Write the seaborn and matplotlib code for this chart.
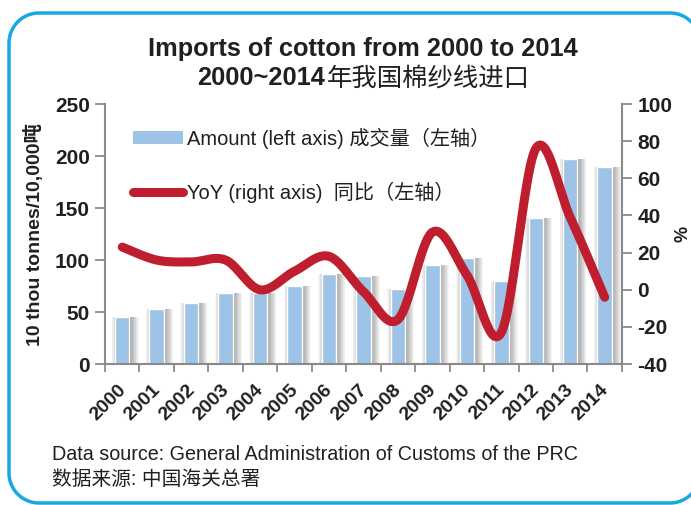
import numpy as np
import pandas as pd
import matplotlib
matplotlib.use("Agg")
import matplotlib.pyplot as plt
import matplotlib.patheffects as pe
from matplotlib.patches import Patch, PathPatch
from matplotlib.path import Path
from matplotlib.lines import Line2D
from matplotlib.transforms import IdentityTransform, ScaledTranslation
import seaborn as sns

years = [str(y) for y in range(2000, 2015)]
amount = [45, 53, 59, 68, 68, 75, 87, 85, 72, 95, 102, 80, 140, 197, 189]
yoy = [23, 16, 15, 16, 0, 10, 18, -1, -16, 31, 8, -23, 76, 39, -4]

left_ticks = [0, 50, 100, 150, 200, 250]
right_ticks = [-40, -20, 0, 20, 40, 60, 80, 100]

BAR_BLUE = "#9dc3e6"
LINE_RED = "#be1e2d"
AXIS_GRAY = "#8a8a8a"
TEXT = "#231f20"

sns.set_theme(style="white")
plt.rcParams["font.family"] = ["Liberation Sans", "Noto Sans CJK SC", "DejaVu Sans"]
plt.rcParams["axes.unicode_minus"] = False

fig = plt.figure(figsize=(6.91, 5.05), dpi=100)
ax = fig.add_axes([0.152, 0.279, 0.748, 0.515])

df = pd.DataFrame({"year": years, "amount": amount})
sns.barplot(data=df, x="year", y="amount", color=BAR_BLUE, width=0.42,
            saturation=1, ax=ax, zorder=2)

# soft grey glow around each bar, heavier on the right
offsets = [-2.5, -2.0, -1.5, -1.0, -0.5] + [0.5 * k for k in range(1, 14)]
shadow = [pe.SimplePatchShadow(offset=(d, 0), shadow_rgbFace="k", alpha=0.034)
          for d in offsets]
for bar in ax.patches:
    bar.set_path_effects(shadow + [pe.Normal()])

ax.set_xlim(-0.5, len(years) - 0.5)
ax.set_ylim(0, 250)
ax.set_yticks(left_ticks)
ax.set_xlabel("")
ax.set_ylabel("10 thou tonnes/10,000吨", fontsize=14, fontweight="bold",
              color=TEXT, labelpad=8)

# x ticks: marks at category boundaries, labels at centres
ax.set_xticks(range(len(years)))
ax.set_xticklabels(years, rotation=45, ha="right", rotation_mode="anchor",
                   fontsize=14, fontweight="bold", color=TEXT)
ax.set_xticks(np.arange(-0.5, len(years)), minor=True)
ax.tick_params(axis="x", which="major", length=0, pad=6)
ax.tick_params(axis="x", which="minor", length=6, width=1.3, color=AXIS_GRAY,
               direction="out", bottom=True)
ax.tick_params(axis="y", length=7, width=1.3, color=AXIS_GRAY, left=True,
               labelsize=15, labelcolor=TEXT, pad=4)
for lbl in ax.get_yticklabels():
    lbl.set_fontweight("bold")
shift = ScaledTranslation(-0.05, -0.09, fig.dpi_scale_trans)
for lbl in ax.get_xticklabels():
    lbl.set_transform(lbl.get_transform() + shift)

for s in ("top", "right"):
    ax.spines[s].set_visible(False)
for s in ("left", "bottom"):
    ax.spines[s].set_color(AXIS_GRAY)
    ax.spines[s].set_linewidth(1.5)

# YoY on the secondary axis, drawn as a smoothed curve through the points
ax2 = ax.twinx()
xs = np.arange(len(yoy), dtype=float)
ys = np.asarray(yoy, dtype=float)
pts = np.column_stack([xs, ys])
curve = []
t = np.linspace(0, 1, 25)[:, None]
for i in range(len(pts) - 1):
    p0 = pts[i - 1] if i > 0 else pts[i]
    p1, p2 = pts[i], pts[i + 1]
    p3 = pts[i + 2] if i + 2 < len(pts) else pts[i + 1]
    seg = 0.5 * (2 * p1 + (-p0 + p2) * t + (2 * p0 - 5 * p1 + 4 * p2 - p3) * t ** 2
                 + (-p0 + 3 * p1 - 3 * p2 + p3) * t ** 3)
    curve.append(seg if i == 0 else seg[1:])
curve = np.vstack(curve)
ax2.plot(curve[:, 0], curve[:, 1], color=LINE_RED, lw=6.5,
         solid_capstyle="round", solid_joinstyle="round", zorder=3)

ax2.set_ylim(-40, 100)
ax2.set_yticks(right_ticks)
ax2.tick_params(axis="y", length=7, width=1.3, color=AXIS_GRAY, right=True,
                labelsize=15, labelcolor=TEXT, pad=4)
for lbl in ax2.get_yticklabels():
    lbl.set_fontweight("bold")
ax2.set_ylabel("%", fontsize=13, fontweight="bold", color=TEXT, labelpad=2)
for s in ("top", "left", "bottom"):
    ax2.spines[s].set_visible(False)
ax2.spines["right"].set_color(AXIS_GRAY)
ax2.spines["right"].set_linewidth(1.5)
ax2.grid(False)
ax.grid(False)

handles = [
    Patch(facecolor=BAR_BLUE, edgecolor="none"),
    Line2D([0], [0], color=LINE_RED, lw=6.5, solid_capstyle="round"),
]
labels = ["Amount (left axis) 成交量（左轴）", "YoY (right axis)  同比（左轴）"]
leg = ax2.legend(handles, labels, loc="upper left", bbox_to_anchor=(0.02, 0.98),
                 frameon=False, fontsize=14.5, handlelength=2.45, handleheight=0.65,
                 handletextpad=0.2, labelspacing=1.65)
for txt in leg.get_texts():
    txt.set_color(TEXT)

fig.text(0.525, 0.903, "Imports of cotton from 2000 to 2014", ha="center",
         va="center", fontsize=18.3, fontweight="bold", color=TEXT)

# second title line: bold digits followed by regular-weight Chinese
renderer = fig.canvas.get_renderer()
part_a = fig.text(0, 0.845, "2000~2014", ha="left", va="center", fontsize=18.3,
                  fontweight="bold", color=TEXT)
part_b = fig.text(0, 0.845, "年我国棉纱线进口", ha="left", va="center",
                  fontsize=18.3, color=TEXT)
wa = part_a.get_window_extent(renderer).width / fig.bbox.width
wb = part_b.get_window_extent(renderer).width / fig.bbox.width
x0 = 0.525 - (wa + wb) / 2
part_a.set_x(x0)
part_b.set_x(x0 + wa + 0.002)

fig.text(0.075, 0.1, "Data source: General Administration of Customs of the PRC",
         ha="left", va="center", fontsize=14.2, color=TEXT)
fig.text(0.075, 0.05, "数据来源: 中国海关总署", ha="left", va="center",
         fontsize=14.2, color=TEXT)

# rounded blue frame (pixel coordinates, origin bottom-left); its right side
# runs just past the canvas edge, so only the corners show there
L, B, R, T, r = 9.0, 2.0, 700.0, 492.0, 30.0


def arc(cx, cy, a0, a1, n=20):
    a = np.radians(np.linspace(a0, a1, n))
    return np.column_stack([cx + r * np.cos(a), cy + r * np.sin(a)])


verts = np.vstack([
    [[R, T - r - 60]],
    arc(R - r, T - r, 0, 90),
    arc(L + r, T - r, 90, 180),
    arc(L + r, B + r, 180, 270),
    arc(R - r, B + r, 270, 360),
    [[R, B + r + 60]],
])
frame = PathPatch(Path(verts), transform=IdentityTransform(), fill=False,
                  edgecolor="#19a8e3", linewidth=2.5, zorder=-1)
fig.patches.append(frame)

fig.savefig("out.png", dpi=100)
